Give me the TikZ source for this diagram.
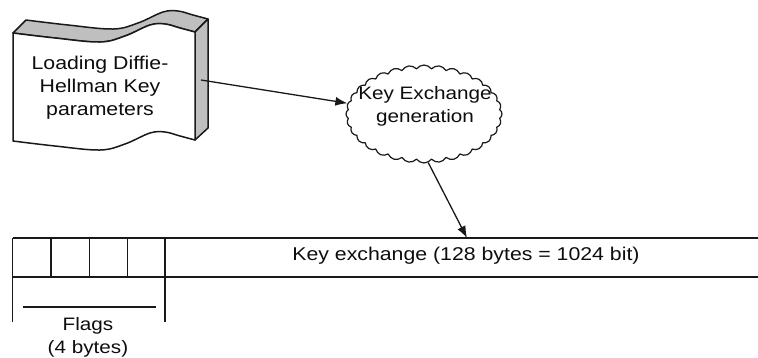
\documentclass[tikz,border=0pt]{standalone}
\usepackage{fontspec}
\setmainfont{Liberation Sans}
\newfontfamily\wf[FakeStretch=1.15]{Liberation Sans}
\usetikzlibrary{shapes.symbols,arrows.meta}
\begin{document}
\begin{tikzpicture}[x=1pt,y=-1pt, line join=round,
  lbl/.style={font=\wf\fontsize{18}{23}\selectfont, text=black!95, align=center, inner sep=0pt},
  edge/.style={line width=1.5pt, draw=black!90},
  arr/.style={line width=1.3pt, draw=black!90, -{Latex[length=12pt,width=9pt]}},
  face/.style={line width=1.5pt, fill=black!25, draw=black!90},
  cloudbox/.style={cloud, draw=black!90, line width=1.2pt, cloud puffs=32, cloud puff arc=110,
    cloud ignores aspect, minimum width=156pt, minimum height=98pt, inner sep=0pt},
]
\useasboundingbox (0,0) rectangle (758,357);

% 3D tape shape
\draw[face] plot[smooth, tension=0.6] coordinates {(13,33) (55,38) (100,42) (125,36) (150,25) (165,24) (180,28) (195,32)}
  -- (208,19)
  -- plot[smooth, tension=0.6] coordinates {(208,19) (193,15) (178,11) (163,12) (138,23) (113,29) (68,25) (26,20)}
  -- cycle;
\draw[face] (195,32) -- (208,19) -- (208,128) -- (195,140) -- cycle;
\draw[edge, fill=white] plot[smooth, tension=0.6] coordinates {(13,33) (55,38) (100,42) (125,36) (150,25) (165,24) (180,28) (195,32)}
  -- (195,140)
  -- plot[smooth, tension=0.6] coordinates {(195,140) (180,136) (165,132) (150,133) (125,144) (100,150) (55,146) (13,141)}
  -- cycle;
\node[lbl, font=\wf\fontsize{18.5}{23}\selectfont] (params) at (100,88) {Loading Diffie-\\Hellman Key\\parameters};
\coordinate (s1) at (201,80);

% cloud
\node[cloudbox] (cloud) at (424,114) {};
\node[lbl] (kxg) at (425,106) {Key Exchange\\generation};

% bar
\draw[edge] (12.7,238) -- (760,238);
\draw[edge] (12.7,277) -- (760,277);
\draw[edge] (12.7,238) -- (12.7,322);
\draw[edge] (165,238) -- (165,322);
\draw[edge] (51,238) -- (51,277);
\draw[edge] (89.3,238) -- (89.3,277);
\draw[edge] (127.7,238) -- (127.7,277);
\node[lbl, font=\wf\fontsize{18.5}{23}\selectfont] (kx) at (466,256) {Key exchange (128 bytes = 1024 bit)};
\coordinate (k1) at (467,238);

% flags
\draw[edge] (22.7,307) -- (156,307);
\node[lbl] (flags) at (88,337) {Flags\\(4 bytes)};

% arrows
\draw[arr] (s1) -- (cloud.172);
\draw[arr] (cloud.-85) -- (k1);
\end{tikzpicture}
\end{document}
